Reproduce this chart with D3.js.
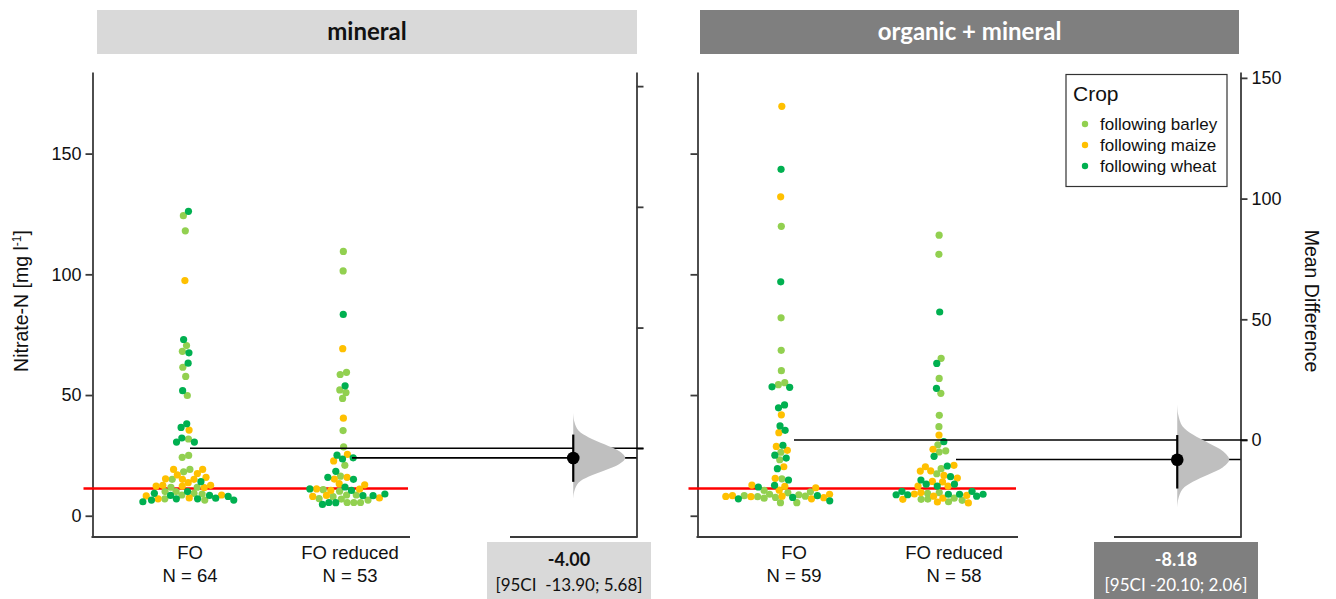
<!DOCTYPE html>
<html>
<head>
<meta charset="utf-8">
<script src="https://cdn.jsdelivr.net/npm/d3@7"></script>
<style>
  body { margin: 0; background: #fff; }
  svg { display: block; }
  .tick text { font-family: "Liberation Sans", Arial, sans-serif; font-size: 18px; fill: #111; }
  .lbl { font-family: "Liberation Sans", Arial, sans-serif; fill: #111; }
  .cal { font-family: Lato, "Open Sans", sans-serif; }
</style>
</head>
<body>
<svg id="chart" width="1336" height="599"></svg>
<script>
// crop colours / legend
const crops = ["following barley", "following maize", "following wheat"];
const cropColors = ["#92d050", "#ffc000", "#00b050"];

// Nitrate-N [mg l-1], per panel / group / previous crop
const minFO_barley = [124.3, 118.0, 70.5, 68.1, 61.5, 57.7, 49.8, 31.8, 25.0, 24.2, 19.2, 18.2, 15.1, 11.8, 11.8, 10.0, 9.0, 10.0, 9.3, 8.6, 7.0, 6.5];
const minFO_maize = [97.4, 35.5, 19.2, 19.2, 17.5, 16.9, 15.1, 15.9, 15.3, 15.1, 13.7, 12.3, 12.6, 12.6, 12.3, 11.7, 8.2, 8.6, 7.4, 7.0];
const minFO_wheat = [126.1, 73.0, 67.5, 63.2, 51.8, 38.1, 36.6, 32.2, 30.5, 30.5, 14.1, 10.0, 9.3, 6.5, 6.5, 7.0, 8.4, 5.8, 7.3, 7.0, 8.4, 8.0];

const minRed_barley = [109.5, 101.4, 58.5, 59.4, 52.1, 51.0, 48.6, 35.3, 28.5, 20.9, 16.4, 10.2, 10.8, 8.6, 6.9, 5.5, 8.6, 7.1, 5.5, 5.5, 7.9, 6.5];
const minRed_maize = [69.2, 40.4, 25.4, 22.7, 15.9, 15.2, 13.3, 12.8, 11.1, 11.0, 10.5, 8.0, 7.4, 8.4];
const minRed_wheat = [83.4, 53.8, 25.1, 24.0, 23.5, 18.4, 15.1, 15.9, 11.9, 10.5, 11.1, 9.0, 5.5, 5.4, 8.3, 4.7, 8.3];

const orgFO_barley = [119.9, 82.0, 68.5, 60.1, 54.3, 55.1, 26.3, 23.2, 15.3, 10.5, 9.9, 9.5, 7.9, 8.1, 8.9, 5.4, 5.4, 8.3, 8.7, 7.6, 7.3];
const orgFO_maize = [169.6, 132.1, 41.8, 34.4, 28.7, 27.1, 20.3, 15.5, 11.6, 12.7, 12.2, 10.6, 8.3, 7.5, 7.9, 8.1, 7.0, 8.0, 8.9];
const orgFO_wheat = [143.5, 96.9, 53.2, 53.4, 44.7, 45.9, 37.2, 35.4, 29.2, 25.1, 23.9, 19.5, 14.8, 12.6, 11.9, 6.2, 7.0, 7.6, 8.3];

const orgRed_barley = [116.2, 108.3, 65.2, 56.9, 50.7, 41.6, 36.9, 29.4, 26.9, 26.4, 19.5, 17.4, 9.3, 6.4, 6.9, 9.6, 7.3, 6.8, 5.8];
const orgRed_maize = [33.4, 27.5, 20.9, 20.3, 18.6, 16.7, 18.5, 15.6, 14.2, 14.0, 12.3, 12.3, 7.3, 5.7, 9.0, 5.3, 9.6, 8.1, 8.4, 6.8];
const orgRed_wheat = [84.4, 63.1, 52.8, 30.7, 24.6, 20.6, 16.2, 14.8, 13.1, 13.1, 12.3, 10.1, 8.7, 8.1, 8.9, 8.7, 8.9, 10.1, 8.9];

const groups = ["FO", "FO reduced"];
const panelTitles = ["mineral", "organic + mineral"];
const groupN = [[64, 53], [59, 58]];
const meanDiff = [-4.00, -8.18];
const ciLow = [-13.90, -20.10];
const ciHigh = [5.68, 2.06];
const ciLabels = ["[95CI  -13.90; 5.68]", "[95CI -20.10; 2.06]"];
// extent of the bootstrap curve (mean difference units) and its relative width profile
const distTop = [14.9, 15.0];
const distBottom = [-21.2, -28.5];
const profileT = [-1, -0.8, -0.6, -0.45, -0.3, -0.15, 0, 0.15, 0.3, 0.45, 0.6, 0.8, 1];
const profileW = [0, 0.02, 0.1, 0.3, 0.6, 0.88, 1, 0.88, 0.6, 0.3, 0.1, 0.02, 0];
const limitN = 11.3;   // red line
const yTicks = [0, 50, 100, 150];

function tag(arr, c) { return arr.map(v => ({v: v, crop: c})); }
const panelData = [
  [minFO_barley, minFO_maize, minFO_wheat].flatMap((a, i) => tag(a, i)),
  [minRed_barley, minRed_maize, minRed_wheat].flatMap((a, i) => tag(a, i)),
  [orgFO_barley, orgFO_maize, orgFO_wheat].flatMap((a, i) => tag(a, i)),
  [orgRed_barley, orgRed_maize, orgRed_wheat].flatMap((a, i) => tag(a, i))
];

const svg = d3.select("#chart");
const plotTop = 72, plotBottom = 537;
const y = d3.scaleLinear().domain([-8.8, 183.8]).range([plotBottom, plotTop]);

const panels = [
  {left: 92.5, right: 636.5, axisEnd: 410, deltaStart: 510, centers: [188, 348], head: [97, 637], fill: "#d9d9d9", text: "#111", box: [487, 651]},
  {left: 697.5, right: 1240.5, axisEnd: 1018, deltaStart: 1114, centers: [792, 952], head: [700, 1239], fill: "#7f7f7f", text: "#fff", box: [1094, 1258]}
];

const R = 3.6;
// horizontal packing: y stays on the value, x is pushed apart by collision
function swarm(values, cx) {
  const nodes = values.map(p => ({v: p.v, crop: p.crop, fy: y(p.v), y: y(p.v)}));
  const sim = d3.forceSimulation(nodes)
    .force("x", d3.forceX(cx).strength(0.06))
    .force("c", d3.forceCollide(3.35).iterations(3))
    .stop();
  for (let i = 0; i < 400; i++) sim.tick();
  return nodes;
}

const AX = "#3a3a3a";

panels.forEach((P, pi) => {
  const g = svg.append("g");

  // header strip
  g.append("rect").attr("x", P.head[0]).attr("y", 10).attr("width", P.head[1] - P.head[0]).attr("height", 44).attr("fill", P.fill);
  g.append("text").attr("class", "cal").attr("x", (P.head[0] + P.head[1]) / 2).attr("y", 40)
    .attr("text-anchor", "middle").attr("font-size", 24).attr("font-weight", 700).attr("fill", P.text)
    .text(panelTitles[pi]);

  const dataFO = panelData[pi * 2], dataRed = panelData[pi * 2 + 1];
  const mFO = d3.mean(dataFO, d => d.v), mRed = d3.mean(dataRed, d => d.v);

  // left y axis
  const ya = g.append("g").attr("transform", `translate(${P.left},0)`)
    .call(d3.axisLeft(y).tickValues(yTicks).tickSize(7).tickSizeOuter(0).tickPadding(4).tickFormat(pi === 0 ? d3.format("d") : () => ""));
  ya.selectAll("path, line").attr("stroke", AX).attr("stroke-width", 1.8);

  // right (mean difference) axis, zero at FO mean
  const dy = d3.scaleLinear().domain(y.domain().map(v => v - mFO)).range(y.range());
  const ra = g.append("g").attr("transform", `translate(${P.right},0)`)
    .call(d3.axisRight(dy).tickValues(yTicks).tickSize(7).tickSizeOuter(0).tickPadding(4).tickFormat(pi === 1 ? d3.format("d") : () => ""));
  ra.selectAll("path, line").attr("stroke", AX).attr("stroke-width", 1.8);

  // bottom axis segments
  g.append("line").attr("x1", P.left - 1).attr("x2", P.axisEnd).attr("y1", plotBottom).attr("y2", plotBottom).attr("stroke", AX).attr("stroke-width", 2);
  g.append("line").attr("x1", P.deltaStart).attr("x2", P.right + 1).attr("y1", plotBottom).attr("y2", plotBottom).attr("stroke", AX).attr("stroke-width", 2);

  // red limit line
  g.append("line").attr("x1", P.left - 9).attr("x2", P.axisEnd - 2).attr("y1", y(limitN)).attr("y2", y(limitN))
    .attr("stroke", "#ff0000").attr("stroke-width", 2.6);

  // swarms
  [dataFO, dataRed].forEach((data, gi) => {
    g.append("g").selectAll("circle").data(swarm(data, P.centers[gi])).join("circle")
      .attr("cx", d => d.x).attr("cy", d => d.fy).attr("r", R)
      .attr("fill", d => cropColors[d.crop]);
  });

  // mean lines
  g.append("line").attr("x1", P.centers[0] + 2).attr("x2", P.right + 7).attr("y1", y(mFO)).attr("y2", y(mFO)).attr("stroke", "#000").attr("stroke-width", 1.6);
  g.append("line").attr("x1", P.centers[1] + 4).attr("x2", P.right).attr("y1", y(mRed)).attr("y2", y(mRed)).attr("stroke", "#000").attr("stroke-width", 1.6);

  // bootstrap distribution + estimate
  const cx = (P.deltaStart + P.right) / 2;
  const md = meanDiff[pi];
  const prof = profileT.map((t, i) => ({
    v: t < 0 ? md + t * (md - distBottom[pi]) : md + t * (distTop[pi] - md),
    w: profileW[i]
  }));
  g.append("path").datum(prof)
    .attr("d", d3.area().y(d => dy(d.v)).x0(cx).x1(d => cx + d.w * 52).curve(d3.curveCatmullRom))
    .attr("fill", "#bfbfbf");
  g.append("line").attr("x1", cx).attr("x2", cx).attr("y1", dy(ciLow[pi])).attr("y2", dy(ciHigh[pi]))
    .attr("stroke", "#000").attr("stroke-width", 2.2);
  g.append("circle").attr("cx", cx).attr("cy", dy(md)).attr("r", 6.3).attr("fill", "#000");

  // effect size box
  g.append("rect").attr("x", P.box[0]).attr("y", 542).attr("width", P.box[1] - P.box[0]).attr("height", 60).attr("fill", P.fill);
  const bx = (P.box[0] + P.box[1]) / 2;
  g.append("text").attr("class", "cal").attr("x", bx).attr("y", 566).attr("text-anchor", "middle")
    .attr("font-size", 18).attr("font-weight", 700).attr("fill", P.text).text(d3.format(".2f")(md).replace("−", "-"));
  g.append("text").attr("class", "cal").attr("x", bx).attr("y", 591).attr("text-anchor", "middle")
    .attr("font-size", 17).attr("fill", P.text).style("white-space", "pre").text(ciLabels[pi]);

  // group labels
  groups.forEach((name, gi) => {
    const t = g.append("text").attr("class", "lbl").attr("text-anchor", "middle").attr("font-size", 18.5);
    t.append("tspan").attr("x", P.centers[gi] + 2).attr("y", 559).text(name);
    t.append("tspan").attr("x", P.centers[gi] + 2).attr("y", 582).text("N = " + groupN[pi][gi]);
  });
});

// y axis title
const yt = svg.append("text").attr("class", "lbl").attr("transform", "translate(28,301) rotate(-90)")
  .attr("text-anchor", "middle").attr("font-size", 19.5);
yt.append("tspan").text("Nitrate-N [mg l");
yt.append("tspan").attr("font-size", 12).attr("dy", -7).text("-1");
yt.append("tspan").attr("dy", 7).text("]");

svg.append("text").attr("class", "lbl").attr("transform", "translate(1305,301) rotate(90)")
  .attr("text-anchor", "middle").attr("font-size", 19.5).text("Mean Difference");

// legend
const lg = svg.append("g");
lg.append("rect").attr("x", 1066).attr("y", 74.5).attr("width", 161).attr("height", 112)
  .attr("fill", "#fff").attr("stroke", "#333").attr("stroke-width", 1.2);
lg.append("text").attr("class", "lbl").attr("x", 1073).attr("y", 101).attr("font-size", 21).text("Crop");
crops.forEach((c, i) => {
  lg.append("circle").attr("cx", 1085).attr("cy", 124 + i * 21).attr("r", 3.2).attr("fill", cropColors[i]);
  lg.append("text").attr("class", "lbl").attr("x", 1100).attr("y", 130 + i * 21).attr("font-size", 17).text(c);
});
</script>
</body>
</html>
